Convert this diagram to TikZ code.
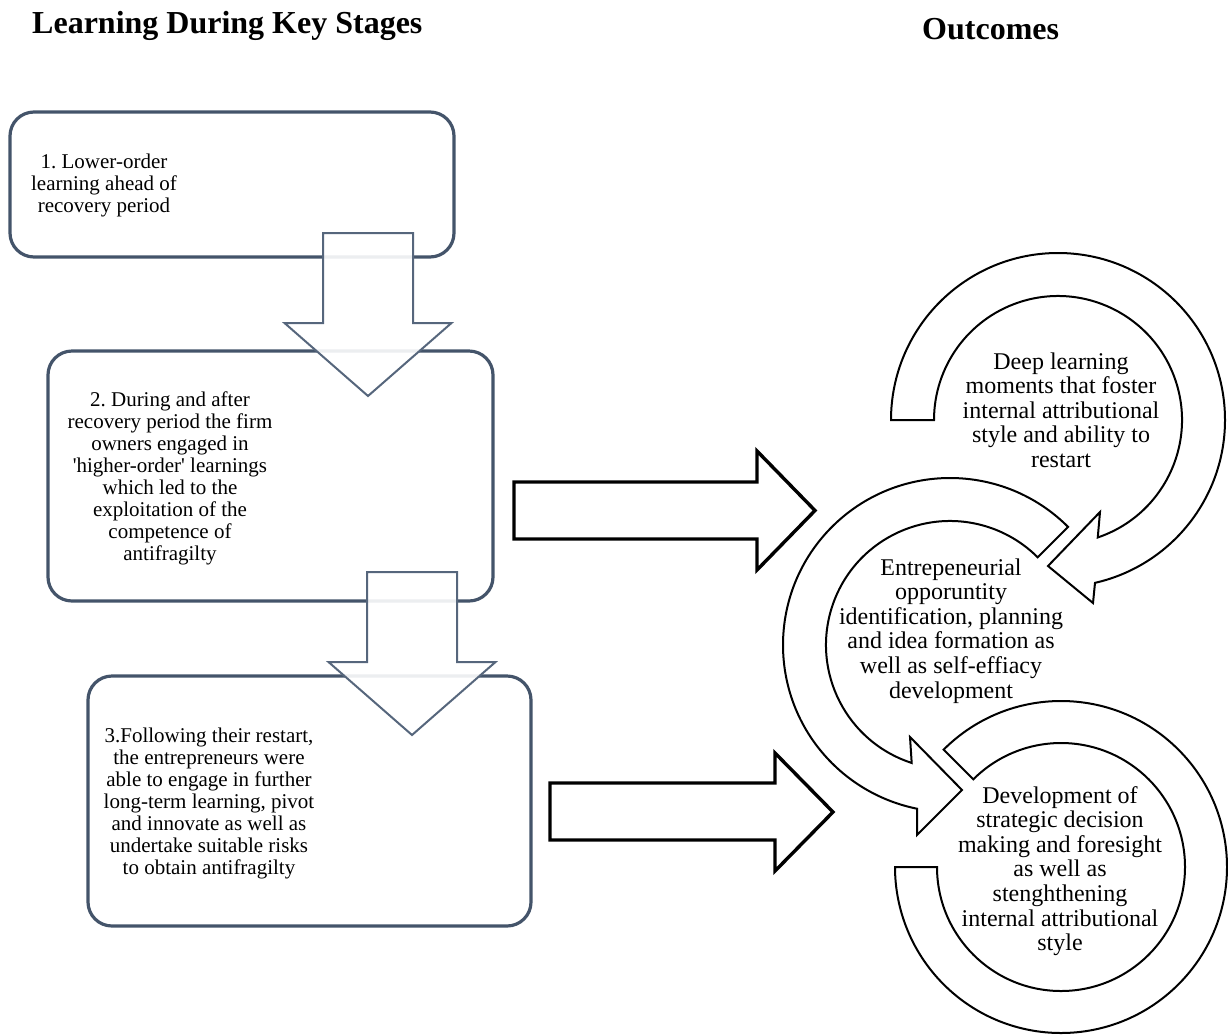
\documentclass[tikz,border=0pt]{standalone}
\usepackage{fontspec}
\setmainfont{Liberation Serif}
\usetikzlibrary{calc}
\definecolor{boxline}{HTML}{44546A}
\definecolor{arrline}{HTML}{56667C}
\newcommand{\mlines}[1]{\begin{tabular}[t]{@{}c@{}}#1\end{tabular}}
\frenchspacing
\begin{document}
\begin{tikzpicture}[x=1pt,y=1pt,
  stagebox/.style={draw=boxline, line width=3.2pt, rounded corners=24pt, inner sep=0pt, outer sep=0pt},
  downarr/.style={draw=arrline, line width=2pt, fill=white, fill opacity=0.9, line join=miter},
  rightarr/.style={draw=black, line width=3.4pt, fill=white, line join=miter},
  circarr/.style={draw=black, line width=2pt, fill=white, line join=miter},
  boxtxt/.style={inner sep=0pt, anchor=base, font=\frenchspacing\fontsize{21pt}{22pt}\selectfont},
  circtxt/.style={inner sep=0pt, anchor=base, font=\fontsize{24pt}{24.6pt}\selectfont},
  titletxt/.style={inner sep=0pt, anchor=base west, font=\fontsize{32pt}{38pt}\selectfont\bfseries},
]
\useasboundingbox (0,0) rectangle (1228,-1034);

% titles
\node[titletxt] (t1) at (32,-33) {Learning During Key Stages};
\node[titletxt] (t2) at (922,-39) {Outcomes};

% stage boxes
\node[stagebox, minimum width=444pt, minimum height=145pt] (b1) at (232,-184.5) {};
\node[stagebox, minimum width=445pt, minimum height=250pt] (b2) at (270.5,-476) {};
\node[stagebox, minimum width=443pt, minimum height=250pt] (b3) at (309.5,-801) {};

% stage texts
\node[boxtxt] (b1t) at (104,-168) {\mlines{1. Lower-order\\learning ahead of\\recovery period}};
\node[boxtxt] (b2t) at (170,-406) {\mlines{2. During and after\\recovery period the firm\\owners engaged in\\\textquotesingle higher-order\textquotesingle{} learnings\\which led to the\\exploitation of the\\competence of\\antifragilty}};
\node[boxtxt] (b3t) at (209,-742) {\mlines{3.Following their restart,\\the entrepreneurs were\\able to engage in further\\long-term learning, pivot\\and innovate as well as\\undertake suitable risks\\to obtain antifragilty}};

% down arrows between stages
\draw[downarr] (323,-233) -- (413,-233) -- (413,-323) -- (451.5,-323) -- (368,-396) -- (284.5,-323) -- (323,-323) -- cycle;
\draw[downarr] (367,-572) -- (457,-572) -- (457,-662) -- (495.5,-662) -- (412,-735) -- (328.5,-662) -- (367,-662) -- cycle;

% right arrows to outcomes
\draw[rightarr] (514,-482) -- (757,-482) -- (757,-451) -- (815,-510.5) -- (757,-570) -- (757,-539) -- (514,-539) -- cycle;
\draw[rightarr] (550,-783) -- (775,-783) -- (775,-753) -- (833,-812) -- (775,-871) -- (775,-840) -- (550,-840) -- cycle;

% circular arrows
\coordinate (C1) at (1058,-420);
\coordinate (C2) at (950,-645);
\coordinate (C3) at (1061,-867);
\draw[circarr] ($(C1)+(180:167)$) arc[start angle=180,end angle=-77.2,radius=167]
  -- (1093,-603) -- (1048,-566) -- (1100,-512)
  -- ($(C1)+(-71.3:124)$) arc[start angle=-71.3,end angle=180,radius=124] -- cycle;
\draw[circarr] ($(C2)+(45:167)$) arc[start angle=45,end angle=258.6,radius=167]
  -- (917,-835) -- (962,-790) -- (910,-737)
  -- ($(C2)+(252:124)$) arc[start angle=252,end angle=45,radius=124] -- cycle;
\draw[circarr] ($(C3)+(135:166)$) arc[start angle=135,end angle=-180,radius=166]
  -- ($(C3)+(180:124)$) arc[start angle=-180,end angle=135,radius=124] -- cycle;

% outcome texts
\node[circtxt] (c1t) at (1061,-369) {\mlines{Deep learning\\moments that foster\\internal attributional\\style and ability to\\restart}};
\node[circtxt] (c2t) at (951,-575) {\mlines{Entrepeneurial\\opporuntity\\identification, planning\\and idea formation as\\well as self-effiacy\\development}};
\node[circtxt] (c3t) at (1060,-803) {\mlines{Development of\\strategic decision\\making and foresight\\as well as\\stenghthening\\internal attributional\\style}};
\end{tikzpicture}
\end{document}
